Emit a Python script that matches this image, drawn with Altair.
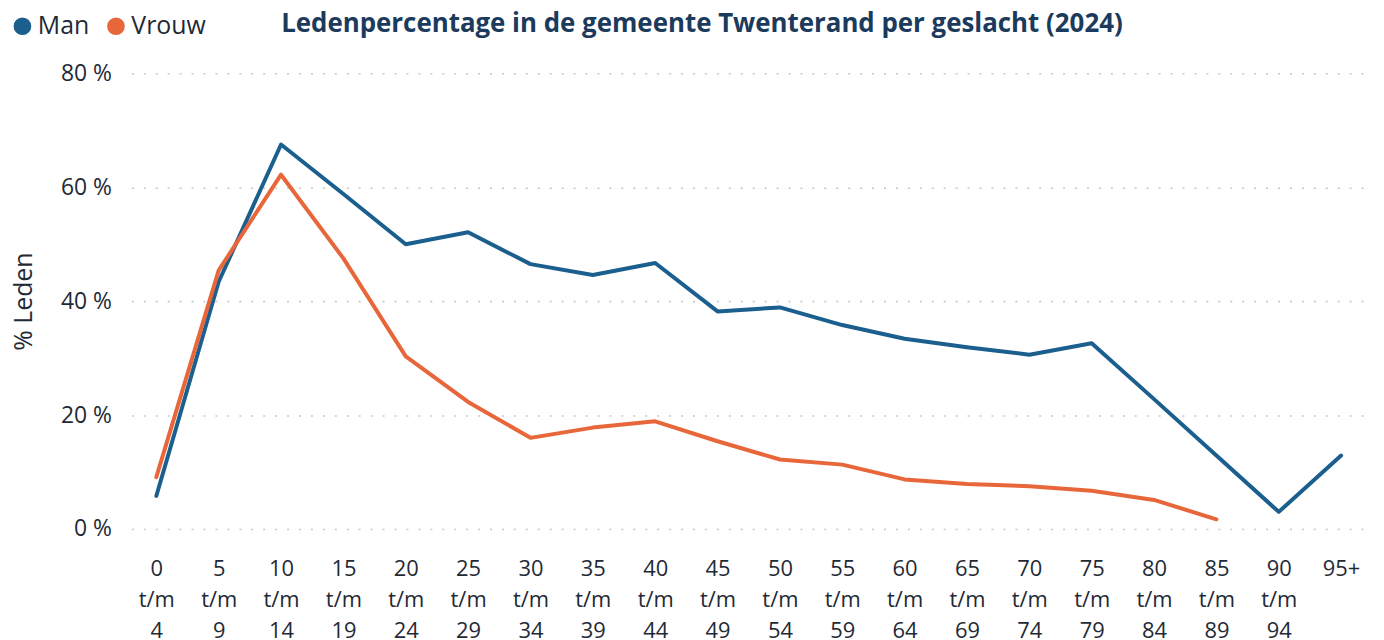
import altair as alt
import pandas as pd

categories = ["0 t/m 4", "5 t/m 9", "10 t/m 14", "15 t/m 19", "20 t/m 24",
              "25 t/m 29", "30 t/m 34", "35 t/m 39", "40 t/m 44", "45 t/m 49",
              "50 t/m 54", "55 t/m 59", "60 t/m 64", "65 t/m 69", "70 t/m 74",
              "75 t/m 79", "80 t/m 84", "85 t/m 89", "90 t/m 94", "95+"]
man = [5.8, 43.4, 67.5, 58.8, 50.0, 52.1, 46.5, 44.6, 46.7, 38.2,
       38.9, 35.8, 33.4, 31.9, 30.6, 32.6, 22.8, 12.9, 3.0, 12.9]
vrouw = [9.1, 45.4, 62.2, 47.5, 30.3, 22.3, 16.0, 17.8, 18.9, 15.4,
         12.2, 11.3, 8.7, 7.9, 7.5, 6.7, 5.1, 1.7, None, None]
series = ["Man", "Vrouw"]
colors = ["#1B5F8E", "#E8673A"]
y_ticks = [0, 20, 40, 60, 80]
title_text = "Ledenpercentage in de gemeente Twenterand per geslacht (2024)"

rows = []
for name, vals in zip(series, [man, vrouw]):
    for i, (c, v) in enumerate(zip(categories, vals)):
        if v is not None:
            rows.append({"leeftijd": c, "geslacht": name, "pct": v, "order": i})
df = pd.DataFrame(rows)

FONT = "Open Sans"
TEXT = "#1F2A36"

chart = alt.Chart(df).mark_line(strokeWidth=4, strokeCap="round", strokeJoin="round").encode(
    x=alt.X("leeftijd:N", sort=categories, title=None,
            scale=alt.Scale(type="point", padding=0.4),
            axis=alt.Axis(labelAngle=0, labelExpr="split(datum.label, ' ')",
                          labelLineHeight=31, labelPadding=30, ticks=False, domain=False,
                          grid=False, labelFontSize=22, labelColor=TEXT, labelFont=FONT)),
    y=alt.Y("pct:Q", title="% Leden",
            scale=alt.Scale(domain=[0, 80], nice=False),
            axis=alt.Axis(values=y_ticks, labelExpr="datum.value + ' %'", ticks=False,
                          domain=False, labelPadding=20, labelFontSize=23, labelColor=TEXT,
                          labelFont=FONT, titleFontSize=25, titleFont=FONT, titleColor=TEXT,
                          titleFontWeight="normal", titlePadding=24,
                          gridDash=[2, 10], gridColor="#C8C8C8", gridWidth=1.6)),
    color=alt.Color("geslacht:N", scale=alt.Scale(domain=series, range=colors),
                    legend=alt.Legend(title=None, orient="none", legendX=-122, legendY=-60,
                                      direction="horizontal", symbolType="circle",
                                      symbolSize=81, symbolStrokeWidth=8.8,
                                      labelFontSize=25, labelFont=FONT, labelColor=TEXT,
                                      labelOffset=3, columnPadding=4)),
    order="order:Q",
).properties(
    width=1241,
    height=458,
    title=alt.TitleParams(title_text, anchor="middle", frame="group", dx=-47, offset=0,
                          dy=44, baseline="alphabetic",
                          fontSize=26, font=FONT, fontWeight="bold", color="#1B3A5C"),
    autosize=alt.AutoSizeParams(type="none"),
    padding={"left": 124, "top": 64, "right": 10, "bottom": 120},
).configure_view(stroke=None)

chart.save("out.html", embed_options={"renderer": "svg", "actions": False})
